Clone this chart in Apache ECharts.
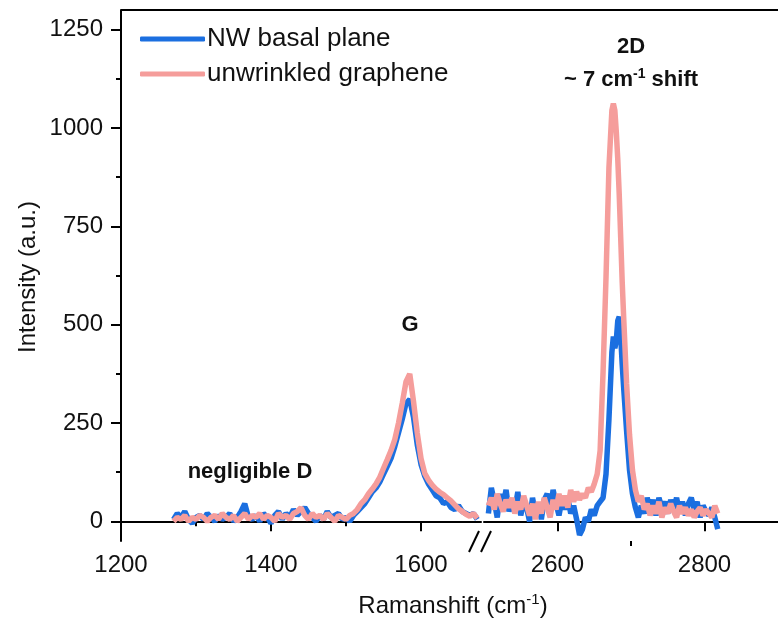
<!DOCTYPE html>
<html>
<head>
<meta charset="utf-8">
<script src="https://cdn.jsdelivr.net/npm/echarts@6/dist/echarts.min.js"></script>
<style>html,body{margin:0;padding:0;background:#fff;}#c{width:778px;height:634px;}</style>
</head>
<body>
<div id="c"></div>
<script>
// ---- data ----
const seriesNames = ['NW basal plane', 'unwrinkled graphene'];
const xLeft = [1270,1275,1280,1285,1290,1295,1300,1305,1310,1315,1320,1325,1330,1335,1340,1345,1350,1355,1360,1365,
  1370,1375,1380,1385,1390,1395,1400,1405,1410,1415,1420,1425,1430,1435,1440,1445,1450,1455,1460,1465,
  1470,1475,1480,1485,1490,1495,1500,1505,1510,1515,1520,1525,1530,1535,1540,1545,1550,1555,1560,1565,
  1570,1575,1580,1585,1590,1595,1600,1605,1610,1615,1620,1625,1630,1635,1640,1645,1650,1655,1660,1665,1670,1675];
const nwLeft = [5,20,10,25,5,-5,10,15,5,20,10,0,15,5,10,20,0,10,25,45,
  10,5,15,0,20,10,-5,15,25,5,20,10,30,15,25,35,20,10,0,15,
  5,25,10,15,20,5,10,0,15,25,35,45,60,75,85,100,120,140,160,190,
  225,260,300,310,265,195,145,115,95,80,65,60,45,50,35,30,40,25,20,15,20,5];
const unwLeft = [0,10,5,15,0,10,5,15,10,0,10,15,5,20,10,5,15,0,10,20,
  5,15,10,20,5,15,10,0,20,10,15,5,20,25,35,15,5,20,10,15,
  5,20,10,0,15,10,5,15,20,30,45,55,70,82,95,112,135,157,180,208,
  250,300,355,375,305,225,160,122,105,92,82,74,68,60,52,42,32,25,18,13,20,8];
const xRight = [2506,2510,2514,2518,2522,2526,2530,2534,2538,2542,2546,2550,2554,2558,2562,2566,2570,2574,2578,2582,
  2586,2590,2594,2598,2602,2606,2610,2614,2618,2622,2626,2630,2634,2638,2642,2646,2650,2654,2658,2662,2666,2670,2674,
  2676,2678,2680,2682,2684,2686,2688,2690,
  2694,2698,2702,2706,2710,2714,2718,2722,2726,2730,2734,2738,2742,2746,2750,2754,2758,2762,2766,2770,
  2774,2778,2782,2786,2790,2794,2798,2802,2806,2810,2814,2818];
const nwRight = [20,85,50,10,70,40,80,25,55,30,75,15,50,35,0,60,20,45,5,55,
  70,25,80,45,15,55,30,60,20,40,5,-35,-20,10,0,30,15,40,50,60,120,260,430,
  470,440,460,510,520,470,400,340,
  230,130,70,35,10,40,20,60,30,55,15,60,35,50,20,55,30,60,25,50,
  15,45,60,30,50,10,40,25,15,35,10,-20];
const unwRight = [40,60,30,70,45,25,55,35,60,20,50,30,65,40,15,45,5,50,20,60,
  35,10,55,30,70,40,65,35,80,50,75,55,70,60,85,75,95,120,180,380,620,900,1045,
  1062,1045,990,920,830,720,610,520,
  350,220,130,80,50,65,30,45,15,40,20,50,10,35,20,45,25,10,40,20,
  35,15,30,10,25,35,15,30,20,10,40,20];
const yMajorTicks = [0,250,500,750,1000,1250];
const yMinorTicks = [125,375,625,875,1125];
const xLeftMajor = [1200,1400,1600];
const xLeftMinor = [1300,1500];
const xRightMajor = [2600,2800];
const xRightMinor = [2700];

const FONT = 'Liberation Sans, Arial, Helvetica, sans-serif';
const blue = '#1b6fe0';
const pink = '#f59d9b';

function pairs(xs, ys){ return xs.map((x,i)=>[x, ys[i]]); }
const plain = v => String(v);

const chart = echarts.init(document.getElementById('c'), null, {renderer:'canvas'});
const axisLineStyle = {show:true, lineStyle:{color:'#000', width:2}};
const option = {
  animation:false,
  backgroundColor:'#fff',
  grid:[
    {left:121, top:10, width:360, height:531},
    {left:484, top:10, width:300, height:531}
  ],
  xAxis:[
    {type:'value', gridIndex:0, min:1200, max:1680, position:'bottom',
     axisLine:axisLineStyle, splitLine:{show:false},
     axisTick:{show:true, customValues:xLeftMajor, length:10, lineStyle:{color:'#000', width:2}},
     axisLabel:{customValues:xLeftMajor, formatter:plain, color:'#111', fontSize:24, fontFamily:FONT, margin:12}},
    {type:'value', gridIndex:1, min:2500, max:2900, position:'bottom',
     axisLine:axisLineStyle, splitLine:{show:false},
     axisTick:{show:true, customValues:xRightMajor, length:10, lineStyle:{color:'#000', width:2}},
     axisLabel:{customValues:xRightMajor, formatter:plain, color:'#111', fontSize:24, fontFamily:FONT, margin:12}},
    {type:'value', gridIndex:0, min:1200, max:1680, position:'bottom',
     axisLine:{show:false}, splitLine:{show:false}, axisLabel:{show:false},
     axisTick:{show:true, customValues:xLeftMinor, length:5, lineStyle:{color:'#000', width:2}}},
    {type:'value', gridIndex:1, min:2500, max:2900, position:'bottom',
     axisLine:{show:false}, splitLine:{show:false}, axisLabel:{show:false},
     axisTick:{show:true, customValues:xRightMinor, length:5, lineStyle:{color:'#000', width:2}}}
  ],
  yAxis:[
    {type:'value', gridIndex:0, min:-50, max:1300, position:'left',
     axisLine:axisLineStyle, splitLine:{show:false},
     axisTick:{show:true, customValues:yMajorTicks, length:10, lineStyle:{color:'#000', width:2}},
     axisLabel:{customValues:yMajorTicks, formatter:plain, color:'#111', fontSize:24, fontFamily:FONT, margin:18}},
    {type:'value', gridIndex:0, min:-50, max:1300, position:'left',
     axisLine:{show:false}, splitLine:{show:false}, axisLabel:{show:false},
     axisTick:{show:true, customValues:yMinorTicks, length:5, lineStyle:{color:'#000', width:2}}},
    {type:'value', gridIndex:1, min:-50, max:1300, show:false}
  ],
  legend:{
    left:135, top:21, orient:'vertical', itemWidth:65, itemHeight:5, itemGap:9,
    icon:'roundRect',
    textStyle:{fontSize:26, fontFamily:FONT, color:'#111', padding:[0,0,0,-3]},
    data:seriesNames
  },
  series:[
    {name:seriesNames[0], type:'line', xAxisIndex:0, yAxisIndex:0, data:pairs(xLeft, nwLeft),
     showSymbol:false, lineStyle:{color:blue, width:5.5}, itemStyle:{color:blue}},
    {name:seriesNames[0], type:'line', xAxisIndex:1, yAxisIndex:2, data:pairs(xRight, nwRight),
     showSymbol:false, lineStyle:{color:blue, width:5.5}, itemStyle:{color:blue}},
    {name:seriesNames[1], type:'line', xAxisIndex:0, yAxisIndex:0, data:pairs(xLeft, unwLeft),
     showSymbol:false, lineStyle:{color:pink, width:5.5}, itemStyle:{color:pink}},
    {name:seriesNames[1], type:'line', xAxisIndex:1, yAxisIndex:2, data:pairs(xRight, unwRight),
     showSymbol:false, lineStyle:{color:pink, width:5.5}, itemStyle:{color:pink}}
  ],
  graphic:[
    {type:'line', z:100, shape:{x1:121, y1:10, x2:778, y2:10}, style:{stroke:'#000', lineWidth:2}},
    {type:'rect', z:100, shape:{x:472, y:536, width:15, height:10}, style:{fill:'#fff'}},
    {type:'line', z:101, shape:{x1:469, y1:552, x2:479, y2:531}, style:{stroke:'#000', lineWidth:2}},
    {type:'line', z:101, shape:{x1:481, y1:552, x2:491, y2:531}, style:{stroke:'#000', lineWidth:2}},
    {type:'text', z:100, x:28, y:277, rotation:Math.PI/2,
     style:{text:'Intensity (a.u.)', font:'24px ' + FONT, fill:'#111', align:'center', verticalAlign:'middle'}},
    {type:'text', z:100, x:453, y:606,
     style:{text:'{a|Ramanshift (cm}{s|-1}{a|)}', align:'center', verticalAlign:'middle',
       rich:{a:{fontSize:24, fontFamily:FONT, fill:'#111', color:'#111'},
             s:{fontSize:15, fontFamily:FONT, fill:'#111', color:'#111', verticalAlign:'top', padding:[0,0,12,0]}}}},
    {type:'text', z:100, x:250, y:472,
     style:{text:'negligible D', font:'bold 22px ' + FONT, fill:'#111', align:'center', verticalAlign:'middle'}},
    {type:'text', z:100, x:410, y:325,
     style:{text:'G', font:'bold 22px ' + FONT, fill:'#111', align:'center', verticalAlign:'middle'}},
    {type:'text', z:100, x:631, y:47,
     style:{text:'2D', font:'bold 22px ' + FONT, fill:'#111', align:'center', verticalAlign:'middle'}},
    {type:'text', z:100, x:631, y:80,
     style:{text:'{a|~ 7 cm}{s|-1}{a| shift}', align:'center', verticalAlign:'middle',
       rich:{a:{fontSize:22, fontWeight:'bold', fontFamily:FONT, fill:'#111', color:'#111'},
             s:{fontSize:14, fontWeight:'bold', fontFamily:FONT, fill:'#111', color:'#111', verticalAlign:'top', padding:[0,0,12,0]}}}}
  ]
};
chart.setOption(option);
</script>
</body>
</html>
